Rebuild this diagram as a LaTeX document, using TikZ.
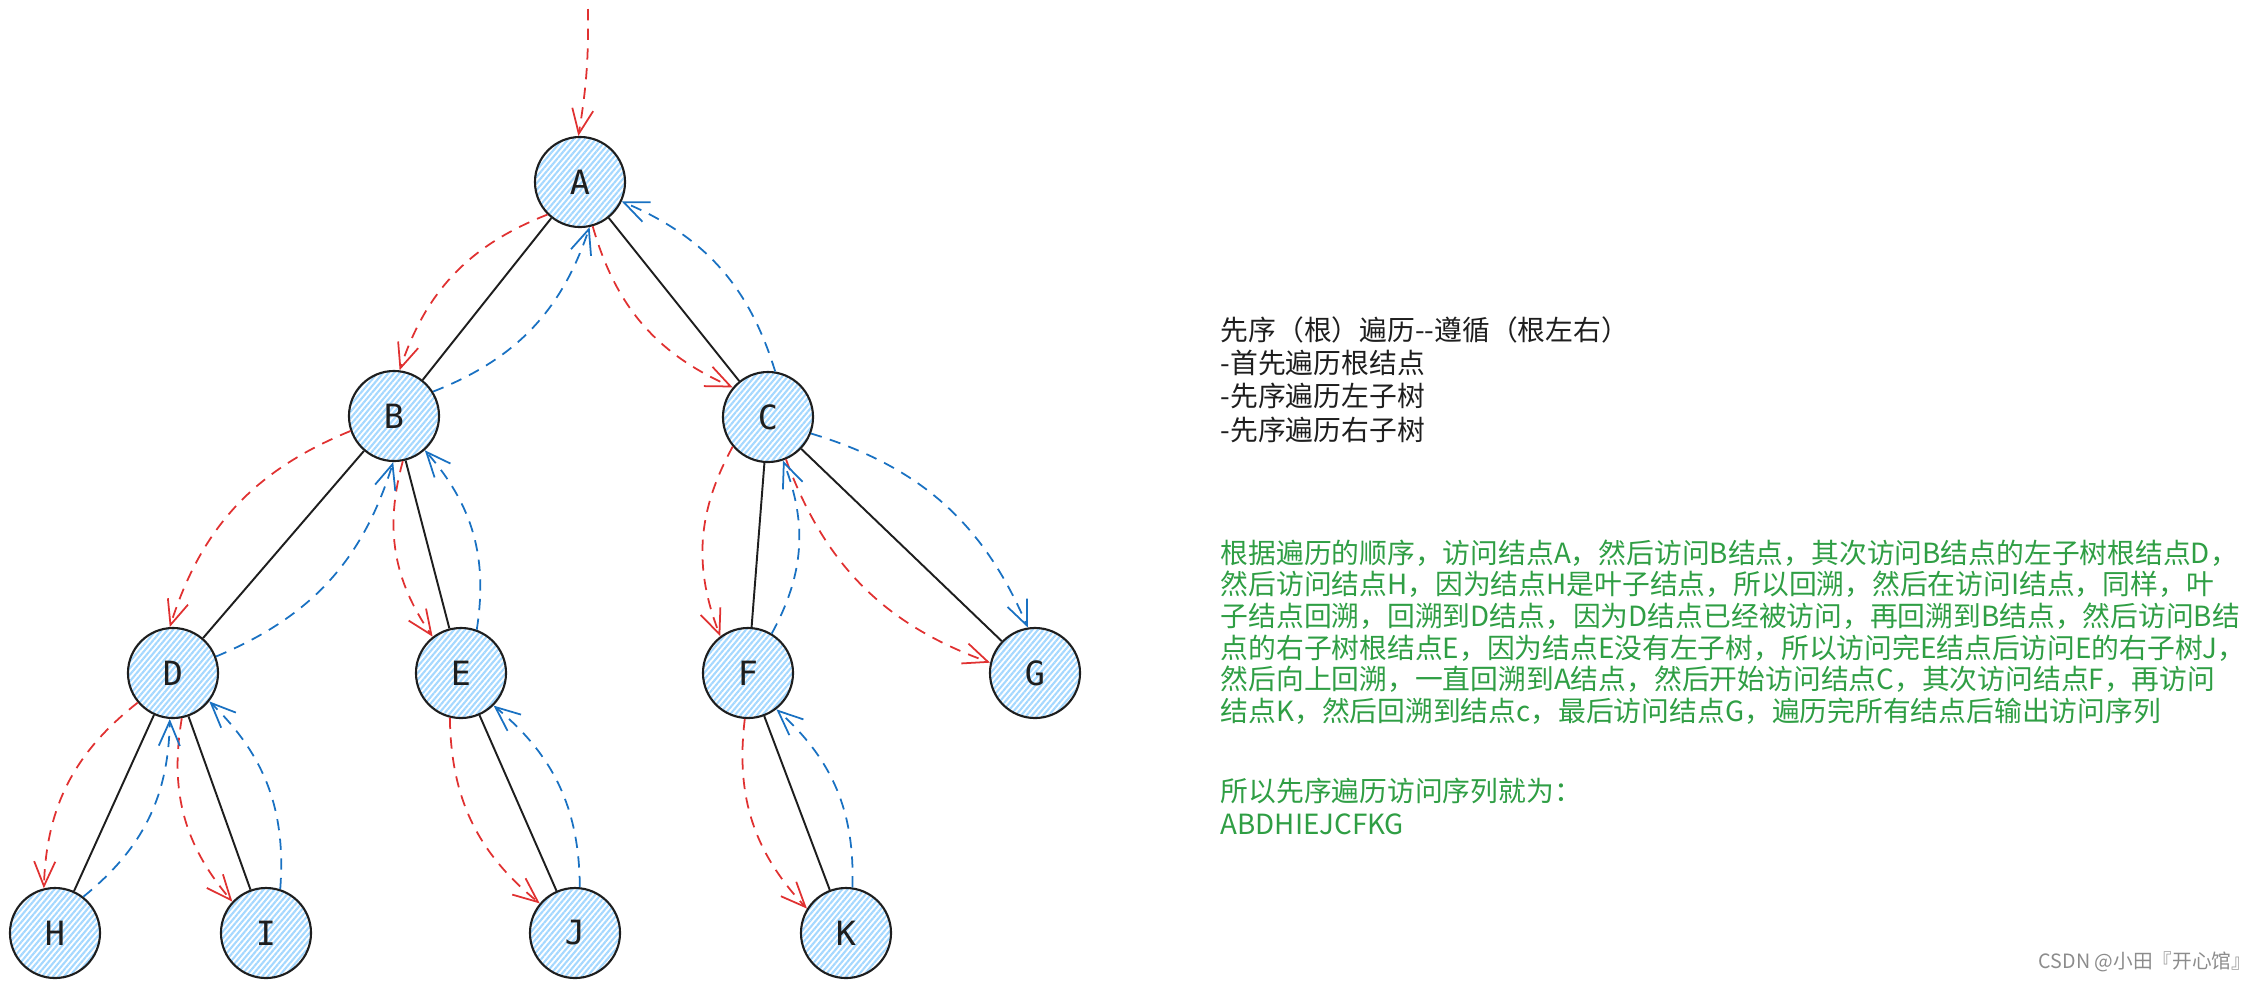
\documentclass[tikz,border=0pt]{standalone}
\usepackage{fontspec}
\setmainfont{Noto Sans CJK SC}
\newfontfamily\letterfont{DejaVu Sans Mono}
\usetikzlibrary{arrows.meta}
\usetikzlibrary{patterns.meta}
\definecolor{ink}{HTML}{1E1E1E}
\definecolor{hachure}{HTML}{A5D8FF}
\definecolor{godown}{HTML}{E03131}
\definecolor{goup}{HTML}{1971C2}
\definecolor{note}{HTML}{2F9E44}
\tikzstyle{vertex}=[circle, minimum size=0.9cm, inner sep=0pt, draw=ink, line width=0.6pt,
                    pattern={Lines[angle=50,distance=1.2pt,line width=0.6pt]}, pattern color=hachure,
                    font=\letterfont\fontsize{9.5}{9.5}\selectfont, text=ink]
\tikzstyle{edge}=[draw=ink, line width=0.55pt]
\tikzstyle{down}=[godown, dash pattern=on 3.2pt off 2.4pt, line width=0.5pt,
                    -{Straight Barb[length=7pt,width=6pt]}]
\tikzstyle{up}=[goup, dash pattern=on 3.2pt off 2.4pt, line width=0.5pt,
                    -{Straight Barb[length=7pt,width=6pt]}]
\tikzstyle{notes}=[anchor=north west, inner sep=0pt, align=left]

\begin{document}
\begin{tikzpicture}[x=0.01cm, y=0.01cm]
    \useasboundingbox (0,0) rectangle (2264,-987);
    \node[vertex] (A) at (580,-182) {A};
    \node[vertex] (B) at (394,-416) {B};
    \node[vertex] (C) at (768,-417) {C};
    \node[vertex] (D) at (173,-673) {D};
    \node[vertex] (E) at (461,-673) {E};
    \node[vertex] (F) at (748,-673) {F};
    \node[vertex] (G) at (1035,-673) {G};
    \node[vertex] (H) at (55,-933) {H};
    \node[vertex] (I) at (266,-933) {I};
    \node[vertex] (J) at (575,-933) {J};
    \node[vertex] (K) at (846,-933) {K};
    \foreach \from/\to in {A/B, A/C, B/D, B/E, C/F, C/G, D/H, D/I, E/J, F/K}
      \draw[edge] (\from) -- (\to);
    % visiting order
    \coordinate (start) at (588,-9);
    \draw[down] (start) to[bend left=5] (A.92);
    \foreach \from/\a/\to/\b in {A/225/B/83, A/286/C/140, B/199/D/94, B/281/E/128,
          D/220/H/104, D/281/I/137, E/256/J/140, C/220/F/127, C/293/G/167, F/266/K/148}
      \draw[down] (\from.\a) to[bend right=25] (\to.\b);
    % going back up
    \foreach \from/\a/\to/\b in {B/32/A/282, C/81/A/335, D/21/B/269, E/70/B/312,
          H/52/D/266, I/72/D/322, J/84/E/315, F/59/C/289, K/82/F/308}
      \draw[up] (\from.\a) to[bend right=25] (\to.\b);
    \draw[up] (C.339) to[bend left=25] (G.99);
    \node[notes, text=ink, font=\fontsize{7.9}{9.45}\selectfont] (rule) at (1220,-316)
      {先序（根）遍历{-}{-}遵循（根左右）\\-首先遍历根结点\\-先序遍历左子树\\-先序遍历右子树};
    \node[notes, text=note, font=\fontsize{7.9}{9.0}\selectfont] (story) at (1220,-539)
      {根据遍历的顺序，访问结点A，然后访问B结点，其次访问B结点的左子树根结点D，\\
       然后访问结点H，因为结点H是叶子结点，所以回溯，然后在访问I结点，同样，叶\\
       子结点回溯，回溯到D结点，因为D结点已经被访问，再回溯到B结点，然后访问B结\\
       点的右子树根结点E，因为结点E没有左子树，所以访问完E结点后访问E的右子树J，\\
       然后向上回溯，一直回溯到A结点，然后开始访问结点C，其次访问结点F，再访问\\
       结点K，然后回溯到结点c，最后访问结点G，遍历完所有结点后输出访问序列};
    \node[notes, text=note, font=\fontsize{7.9}{9.4}\selectfont] (order) at (1220,-777)
      {所以先序遍历访问序列就为：\\ABDHIEJCFKG};
    \node[anchor=east, inner sep=0pt, text=black!45, font=\fontsize{5.6}{5.6}\selectfont] (mark) at (2252,-962)
      {CSDN @小田『开心馆』};
\end{tikzpicture}
\end{document}
